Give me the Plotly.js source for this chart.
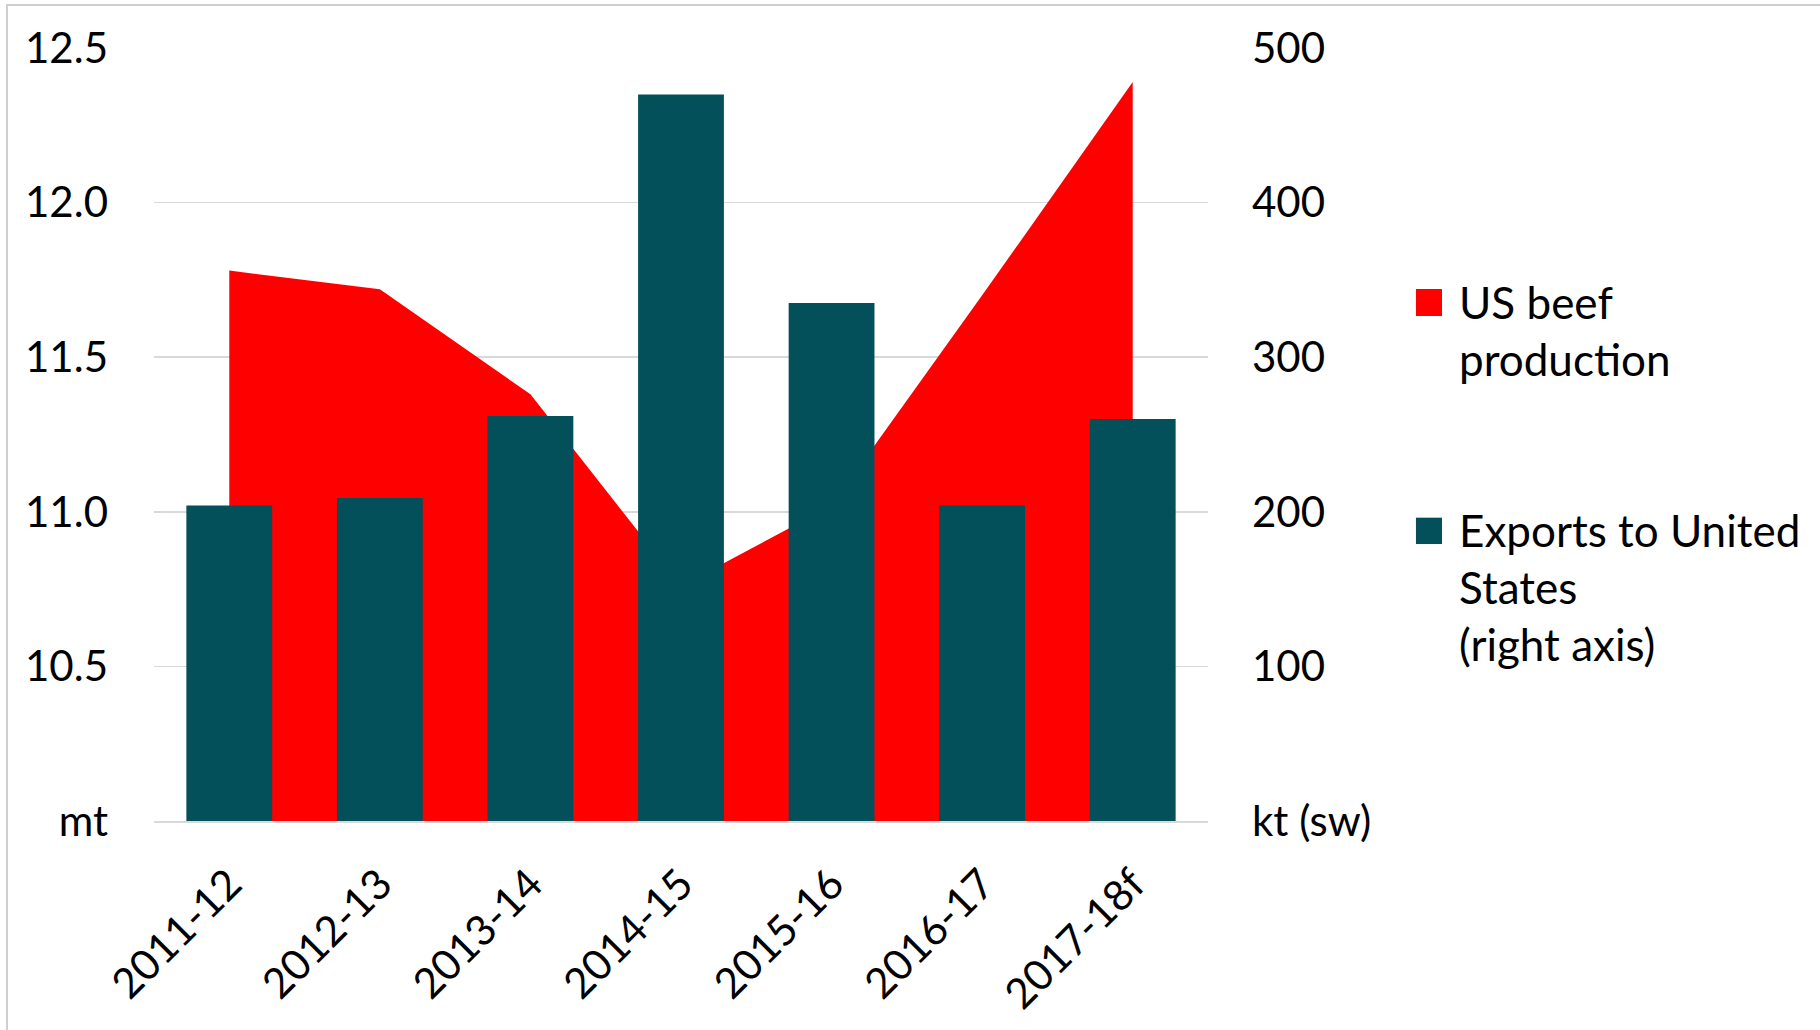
<!DOCTYPE html>
<html>
<head>
<meta charset="utf-8">
<script src="https://cdn.plot.ly/plotly-3.0.1.min.js"></script>
<style>
  html, body { margin: 0; padding: 0; background: #fff; }
  #wrap { position: relative; width: 1820px; height: 1030px; }
  #chart { position: absolute; left: 0; top: 0; width: 1820px; height: 1030px; }
  #frame { position: absolute; left: 6px; top: 4px; right: 0; bottom: 0;
           border-left: 2px solid #cfcfcf; border-top: 2px solid #cfcfcf; pointer-events: none; }
</style>
</head>
<body>
<div id="wrap">
  <div id="chart"></div>
  <div id="frame"></div>
</div>
<script>
// Production de boeuf US (aire, axe gauche) et exportations vers les US (barres, axe droit)
const categories = ['2011-12', '2012-13', '2013-14', '2014-15', '2015-16', '2016-17', '2017-18f'];
const beefProduction = [11.78, 11.72, 11.38, 10.76, 11.02, 11.70, 12.39]; // mt
const exportsToUS = [204, 209, 262, 470, 335, 204, 260]; // kt (sw)

const leftTickVals = [10, 10.5, 11, 11.5, 12, 12.5];
const leftTickText = ['mt', '10.5', '11.0', '11.5', '12.0', '12.5'];
const rightTickVals = [0, 100, 200, 300, 400, 500];
const rightTickText = ['kt (sw)', '100', '200', '300', '400', '500'];

const RED = '#ff0000';
const TEAL = '#03505b';
const FONT = 'Lato, "Open Sans", sans-serif';
const FS = 42;
const LEGEND_FS = 44;

const traces = [
  {
    x: categories,
    y: beefProduction,
    type: 'scatter',
    mode: 'lines',
    fill: 'tozeroy',
    fillcolor: RED,
    line: { width: 0, color: RED },
    name: 'US beef production',
    yaxis: 'y',
    hoverinfo: 'x+y'
  },
  {
    x: categories,
    y: exportsToUS,
    type: 'bar',
    marker: { color: TEAL, line: { width: 0 } },
    name: 'Exports to United States (right axis)',
    yaxis: 'y2',
    hoverinfo: 'x+y'
  }
];

// legende dessinee a la main (carres + texte) pour garder la taille des icones
const legendItems = [
  { color: RED, text: 'US beef<br>production', y0: 0.6533, y1: 0.6882, ty: 0.634 },
  { color: TEAL, text: 'Exports to United<br>States<br>(right axis)', y0: 0.3583, y1: 0.3924, ty: 0.3027 }
];

const layout = {
  width: 1820,
  height: 1030,
  margin: { l: 154, r: 612, t: 48, b: 209, pad: 0 },
  paper_bgcolor: '#fff',
  plot_bgcolor: '#fff',
  showlegend: false,
  bargap: 0.43,
  font: { family: FONT, size: FS, color: '#000' },
  xaxis: {
    type: 'category',
    range: [-0.5, 6.5],
    tickangle: -45,
    ticks: '',
    showgrid: false,
    showline: true,
    linecolor: '#d9d9d9',
    linewidth: 1.5,
    ticklabelstandoff: 20,
    tickfont: { family: FONT, size: FS, color: '#000' },
    fixedrange: true
  },
  yaxis: {
    range: [10, 12.5],
    tickvals: leftTickVals,
    ticktext: leftTickText,
    ticks: '',
    showgrid: true,
    gridcolor: '#d9d9d9',
    gridwidth: 1.5,
    zeroline: false,
    showline: false,
    ticklabelstandoff: 45,
    tickfont: { family: FONT, size: FS, color: '#000' },
    fixedrange: true
  },
  yaxis2: {
    range: [0, 500],
    overlaying: 'y',
    side: 'right',
    tickvals: rightTickVals,
    ticktext: rightTickText,
    ticks: '',
    showgrid: false,
    zeroline: false,
    showline: false,
    ticklabelstandoff: 43,
    tickfont: { family: FONT, size: FS, color: '#000' },
    fixedrange: true
  },
  shapes: legendItems.map(it => ({
    type: 'rect', xref: 'paper', yref: 'paper',
    x0: 1.1973, x1: 1.2220, y0: it.y0, y1: it.y1,
    fillcolor: it.color, line: { width: 0 }
  })),
  annotations: legendItems.map(it => ({
    xref: 'paper', yref: 'paper',
    x: 1.2362, y: it.ty,
    xanchor: 'left', yanchor: 'middle', align: 'left',
    text: it.text, showarrow: false,
    font: { family: FONT, size: LEGEND_FS, color: '#000' }
  }))
};

Plotly.newPlot('chart', traces, layout, { displayModeBar: false, staticPlot: true });
</script>
</body>
</html>
